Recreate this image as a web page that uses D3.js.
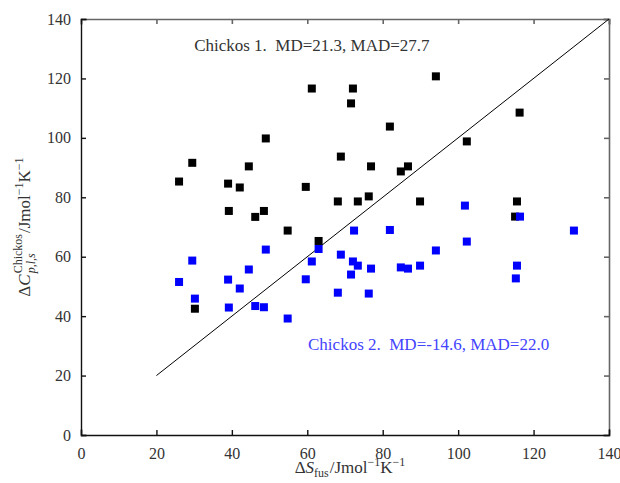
<!DOCTYPE html>
<html>
<head>
<meta charset="utf-8">
<script src="https://cdn.jsdelivr.net/npm/d3@7"></script>
<style>
  body { margin: 0; background: #fff; }
  svg text { font-family: "Liberation Serif", "DejaVu Serif", serif; }
  .tick text { font-size: 16px; fill: #333; }
</style>
</head>
<body>
<svg width="620" height="483"></svg>
<script>
// Chickos 1 (black) and Chickos 2 (blue): x = dS_fus, y = dCp estimate
const xChickos1 = [26.0, 29.5, 30.2, 39.0, 39.2, 42.1, 44.5, 46.2, 48.5, 49.0, 54.8, 59.6, 61.2, 63.0, 68.1,
  68.9, 71.6, 72.1, 73.4, 76.3, 76.9, 81.9, 84.8, 86.7, 89.9, 94.1, 102.3, 115.1, 115.6, 116.3];
const yChickos1 = [85.3, 91.6, 42.5, 84.6, 75.4, 83.3, 90.4, 73.4, 75.4, 99.8, 68.8, 83.5, 116.6, 65.3, 78.6,
  93.7, 111.6, 116.6, 78.6, 80.3, 90.4, 103.8, 88.7, 90.4, 78.6, 120.7, 98.8, 73.5, 78.6, 108.5];

const xChickos2 = [26.0, 29.5, 30.2, 39.0, 39.2, 42.1, 44.5, 46.2, 48.5, 49.0, 54.8, 59.6, 61.2, 63.0, 68.1,
  68.9, 71.6, 72.1, 72.4, 73.4, 76.3, 76.9, 81.9, 84.8, 86.7, 89.9, 94.1, 101.8, 102.3, 115.3, 115.6, 116.4, 130.7];
const yChickos2 = [51.5, 58.7, 45.9, 52.3, 42.9, 49.3, 55.7, 43.4, 43.0, 62.4, 39.2, 52.4, 58.4, 62.6, 47.9,
  60.7, 54.0, 58.4, 68.8, 57.0, 47.6, 56.0, 69.0, 56.4, 56.0, 57.0, 62.1, 77.2, 65.1, 52.7, 57.0, 73.5, 68.8];

const parityLine = [20, 140];
const xTicks = [0, 20, 40, 60, 80, 100, 120, 140];
const yTicks = [0, 20, 40, 60, 80, 100, 120, 140];

const svg = d3.select('svg');
const margin = {top: 19, right: 11, bottom: 48, left: 81};
const width = +svg.attr('width');
const height = +svg.attr('height');
const innerWidth = width - margin.left - margin.right;
const innerHeight = height - margin.top - margin.bottom;

const xScale = d3.scaleLinear().domain([0, 140]).range([0, innerWidth]);
const yScale = d3.scaleLinear().domain([0, 140]).range([innerHeight, 0]);

const g = svg.append('g')
  .attr('transform', `translate(${margin.left},${margin.top})`);

// frame: top/right in grey, drawn first so left/bottom sit on top
const topG = g.append('g')
  .call(d3.axisTop(xScale).tickValues(xTicks).tickSize(-5));
const rightG = g.append('g')
  .attr('transform', `translate(${innerWidth},0)`)
  .call(d3.axisRight(yScale).tickValues(yTicks).tickSize(-5));
[topG, rightG].forEach(a => {
  a.selectAll('text').remove();
  a.selectAll('path, line').attr('stroke', '#666').attr('stroke-width', 1.6);
});

// axes, ticks pointing inward
const xAxisG = g.append('g')
  .attr('transform', `translate(0,${innerHeight})`)
  .call(d3.axisBottom(xScale).tickValues(xTicks).tickSize(-5).tickPadding(13));
const yAxisG = g.append('g')
  .call(d3.axisLeft(yScale).tickValues(yTicks).tickSize(-5).tickPadding(10));
[xAxisG, yAxisG].forEach(a => {
  a.attr('font-family', null).attr('font-size', null);
  a.selectAll('path, line').attr('stroke', '#111').attr('stroke-width', 1.4);
});
xAxisG.selectAll('text').attr('dy', 11);
yAxisG.selectAll('text').attr('dy', 5);
svg.selectAll('.domain').attr('stroke-linecap', 'square');

// parity line
g.append('line')
  .attr('x1', xScale(parityLine[0])).attr('y1', yScale(parityLine[0]))
  .attr('x2', xScale(parityLine[1])).attr('y2', yScale(parityLine[1]))
  .attr('stroke', '#000').attr('stroke-width', 1);

const s = 8;
const black = xChickos1.map((x, i) => ({x, y: yChickos1[i]}));
const blue = xChickos2.map((x, i) => ({x, y: yChickos2[i]}));

g.selectAll('rect.c1').data(black).join('rect')
  .attr('class', 'c1')
  .attr('x', d => xScale(d.x) - s / 2)
  .attr('y', d => yScale(d.y) - s / 2)
  .attr('width', s).attr('height', s)
  .attr('fill', '#000');

g.selectAll('rect.c2').data(blue).join('rect')
  .attr('class', 'c2')
  .attr('x', d => xScale(d.x) - s / 2)
  .attr('y', d => yScale(d.y) - s / 2)
  .attr('width', s).attr('height', s)
  .attr('fill', '#0000ff');

// annotations
g.append('text')
  .attr('x', xScale(30.0)).attr('y', yScale(129.3))
  .attr('font-size', 17).attr('fill', '#333')
  .attr('xml:space', 'preserve')
  .text('Chickos 1.  MD=21.3, MAD=27.7');

g.append('text')
  .attr('x', xScale(60.2)).attr('y', yScale(28.6))
  .attr('font-size', 17).attr('fill', '#4444ff')
  .attr('xml:space', 'preserve')
  .text('Chickos 2.  MD=-14.6, MAD=22.0');

// width of a piece of text at a given size/style
function textWidth(str, size, italic) {
  const t = svg.append('text').attr('font-size', size)
    .attr('font-style', italic ? 'italic' : 'normal').text(str);
  const w = t.node().getComputedTextLength();
  t.remove();
  return w;
}

// x label: ΔS_fus / Jmol^-1 K^-1
const xLabel = svg.append('text')
  .attr('x', margin.left + innerWidth / 2 + 5).attr('y', height - 10)
  .attr('text-anchor', 'middle').attr('font-size', 17).attr('fill', '#333');
xLabel.append('tspan').text('Δ');
xLabel.append('tspan').attr('font-style', 'italic').text('S');
xLabel.append('tspan').attr('font-size', 12).attr('dy', 4).text('fus');
xLabel.append('tspan').attr('dy', -4).attr('dx', 1).text('/Jmol');
xLabel.append('tspan').attr('font-size', 12).attr('dy', -7).text('−1');
xLabel.append('tspan').attr('dy', 7).text('K');
xLabel.append('tspan').attr('font-size', 12).attr('dy', -7).text('−1');

// y label: ΔC_{p,l,s}^{Chickos} / Jmol^-1 K^-1 (super/subscript stacked)
const wSup = textWidth('Chickos', 12, false);
const wSub = textWidth('p,l,s', 12, true);
const yLabel = svg.append('text')
  .attr('transform', `translate(30,${margin.top + innerHeight / 2}) rotate(-90)`)
  .attr('text-anchor', 'middle').attr('font-size', 17).attr('fill', '#333');
yLabel.append('tspan').text('Δ');
yLabel.append('tspan').attr('font-style', 'italic').text('C');
yLabel.append('tspan').attr('font-size', 12).attr('dy', -8).attr('dx', 1).text('Chickos');
yLabel.append('tspan').attr('font-size', 12).attr('font-style', 'italic')
  .attr('dy', 13).attr('dx', -wSup).text('p,l,s');
yLabel.append('tspan').attr('dy', -5).attr('dx', wSup - wSub + 1).text('/Jmol');
yLabel.append('tspan').attr('font-size', 12).attr('dy', -7).text('−1');
yLabel.append('tspan').attr('dy', 7).text('K');
yLabel.append('tspan').attr('font-size', 12).attr('dy', -7).text('−1');
</script>
</body>
</html>
